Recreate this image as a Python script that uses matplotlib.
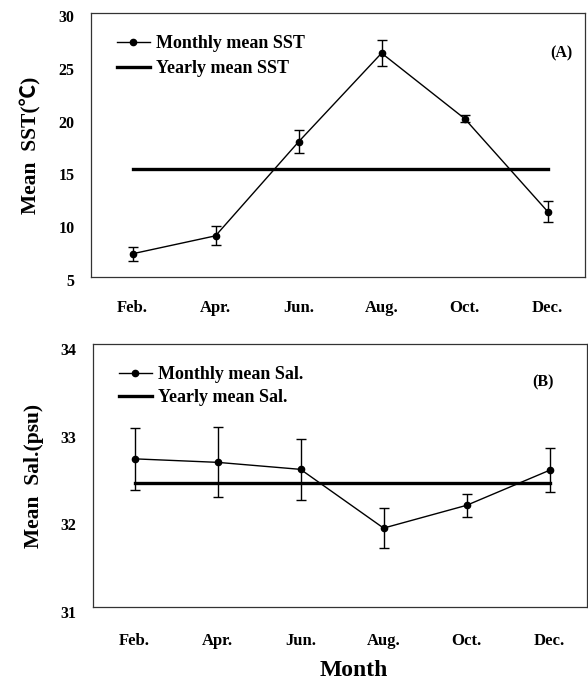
import matplotlib
matplotlib.use("Agg")
import matplotlib.pyplot as plt
from matplotlib.transforms import ScaledTranslation
from matplotlib.lines import Line2D

months = ["Feb.", "Apr.", "Jun.", "Aug.", "Oct.", "Dec."]
sst_mean = [7.2, 8.9, 17.8, 26.2, 20.0, 11.2]
sst_err = [0.65, 0.9, 1.1, 1.2, 0.35, 1.0]
sst_yearly = 15.2
sal_mean = [32.69, 32.65, 32.57, 31.90, 32.16, 32.56]
sal_err = [0.35, 0.4, 0.35, 0.23, 0.13, 0.25]
sal_yearly = 32.42
sst_ticks = [5, 10, 15, 20, 25, 30]
sal_ticks = [31, 32, 33, 34]

plt.rcParams["font.family"] = ["Liberation Serif", "Noto Sans CJK SC", "DejaVu Serif"]
plt.rcParams["font.weight"] = "bold"

fig = plt.figure(figsize=(5.88, 6.80), dpi=100)
W, H = 588, 680

def make_axes(l, t, r, b):
    return fig.add_axes([l / W, 1 - b / H, (r - l) / W, (b - t) / H])

ax1 = make_axes(91, 13, 585, 277)
ax2 = make_axes(93, 344, 587, 607)

x = list(range(len(months)))

def draw_panel(ax, mean, err, yearly, ticks, ylabel, tag, leg_labels, ylab_offset,
               xpad, tag_xy, leg_anchor, leg_spacing):
    ax.errorbar(x, mean, yerr=err, color="black", lw=1.0, marker="o", ms=4.5,
                capsize=3.4, elinewidth=1.0, capthick=1.0, zorder=3)
    ax.plot([x[0], x[-1]], [yearly, yearly], color="black", lw=2.4, zorder=2)
    ax.set_xlim(-0.5, 5.45)
    ax.set_ylim(ticks[0], ticks[-1])
    ax.set_yticks(ticks)
    ax.set_xticks(x)
    ax.set_xticklabels(months)
    ax.tick_params(length=0, pad=12)
    ax.tick_params(axis="y", labelsize=11.5)
    ax.tick_params(axis="x", labelsize=12, pad=xpad)
    off = ScaledTranslation(0, -ylab_offset / 100, fig.dpi_scale_trans)
    for lab in ax.get_yticklabels():
        lab.set_transform(lab.get_transform() + off)
    for sp in ax.spines.values():
        sp.set_linewidth(0.9)
        sp.set_color("#333333")
    ax.set_ylabel(ylabel, fontsize=15.5, fontweight="bold", labelpad=12)
    ax.text(tag_xy[0], tag_xy[1], tag, transform=ax.transAxes, fontsize=11.5,
            fontweight="bold", ha="center", va="center")
    handles = [
        Line2D([], [], color="black", lw=1.0, marker="o", ms=4.5),
        Line2D([], [], color="black", lw=2.4),
    ]
    ax.legend(handles, leg_labels, loc="upper left", bbox_to_anchor=leg_anchor,
              frameon=False, handlelength=1.8, handletextpad=0.35,
              labelspacing=leg_spacing, borderaxespad=0, borderpad=0,
              prop={"weight": "bold", "size": 13})

draw_panel(ax1, sst_mean, sst_err, sst_yearly, sst_ticks, "Mean  SST(℃)", "(A)",
           ["Monthly mean SST", "Yearly mean SST"], 3, 16.5,
           ((561 - 91) / 494, 1 - (53 - 13) / 264),
           ((117 - 91) / 494, 1 - (35 - 13) / 264), 0.47)
draw_panel(ax2, sal_mean, sal_err, sal_yearly, sal_ticks, "Mean  Sal.(psu)", "(B)",
           ["Monthly mean Sal.", "Yearly mean Sal."], 5, 18.5,
           ((543 - 93) / 494, 1 - (382 - 344) / 263),
           ((119 - 93) / 494, 1 - (366 - 344) / 263), 0.36)

fig.text(354 / W, 1 - 671 / H, "Month", fontsize=17, fontweight="bold", ha="center", va="center")

fig.savefig("out.png", dpi=100)
